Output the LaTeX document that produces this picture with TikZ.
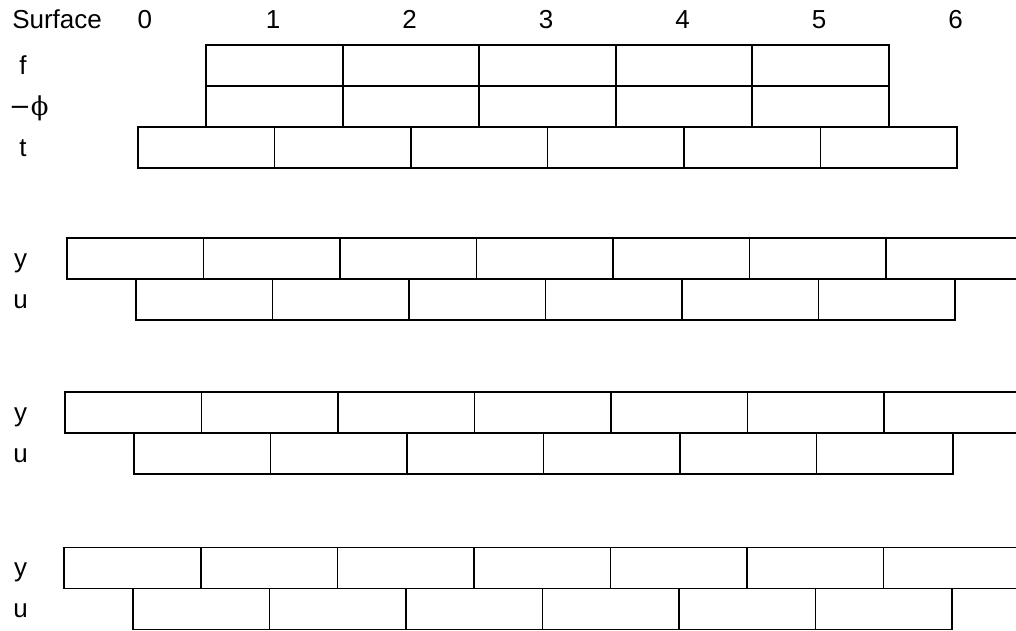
\documentclass[tikz,border=0pt]{standalone}
\usepackage{fontspec}
\setmainfont{Liberation Sans}
\newfontfamily\greekfont{DejaVu Serif}
\usetikzlibrary{positioning}

\begin{document}
\begin{tikzpicture}[
  x=68.25pt,y=20.5pt,
  font=\fontsize{13}{15}\selectfont,
  brick/.style={draw,line width=0.8pt,minimum width=68.25pt,minimum height=20.5pt,
                inner sep=0pt,outer sep=0pt},
  lab/.style={inner sep=0pt,text height=8.5pt,text depth=0pt}]
  \clip (-1.011,0) rectangle (6.432,-15.366);
  % surface numbers
  \node[lab] (surf) at (-0.593,-0.476) {Surface};
  \node[lab] (s0) at (0.05,-0.476) {0};
  \foreach \i in {1,...,6}
     \node[lab] (s\i) at (\i-0.01,-0.476) {\i};
  % f, -phi, t
  \node[lab] (lf) at (-0.842,-1.598) {f};
  \node[lab] (lp) at (-0.8,-2.62) {\greekfont −ϕ};
  \node[lab] (lt) at (-0.842,-3.598) {t};
  \foreach \i in {1,...,5} {
     \node[brick] (f\i) at (\i,-1.598) {};
     \node[brick] (p\i) at (\i,-2.598) {};
  }
  \foreach \i in {1,...,6}
     \node[brick] (t\i) at (\i-0.5,-3.598) {};
  % y / u pairs
  \foreach \k/\dy/\dxy/\dxu in {1/6.305/-0.02/-0.015,2/10.061/-0.035/-0.03,3/13.856/-0.04/-0.037} {
     \node[lab] (ly\k) at (-0.86,-\dy) {y};
     \node[lab] (lu\k) at (-0.86,{-\dy-1}) {u};
     \foreach \i in {0,...,6}
        \node[brick] (y\k-\i) at ({\i+(\dxy)},-\dy) {};
     \foreach \i in {1,...,6}
        \node[brick] (u\k-\i) at ({\i-0.5+(\dxu)},{-\dy-1}) {};
  }
\end{tikzpicture}
\end{document}
